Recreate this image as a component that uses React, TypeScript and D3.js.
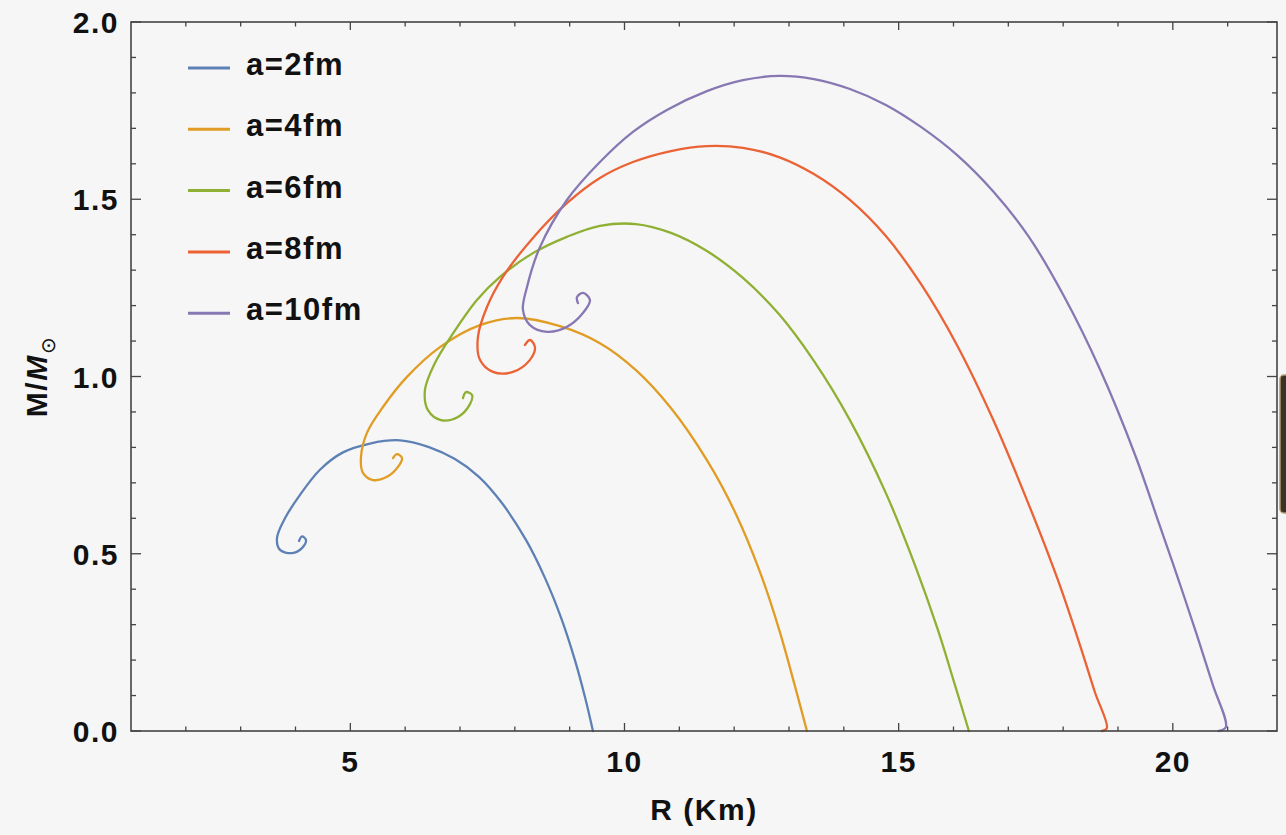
import React, { useEffect, useRef } from 'react';
import * as d3 from 'd3';

const seriesNames = ['a=2fm', 'a=4fm', 'a=6fm', 'a=8fm', 'a=10fm'];
const seriesColors = ['#5e81b5', '#e19c24', '#8fb032', '#eb6235', '#8778b3'];

const a2fm: [number, number][] = [
  [9.425, 0], [9.279, 0.096], [9.096, 0.2], [8.859, 0.313], [8.549, 0.432], [8.203, 0.539],
  [7.765, 0.643], [7.346, 0.717], [6.908, 0.767], [6.434, 0.801], [5.905, 0.82], [5.358, 0.811],
  [4.866, 0.786], [4.446, 0.737], [4.082, 0.666], [3.808, 0.6], [3.662, 0.544], [3.717, 0.511],
  [3.936, 0.502], [4.118, 0.516], [4.191, 0.539], [4.118, 0.549], [4.064, 0.536],
];
const a4fm: [number, number][] = [
  [13.327, 0], [13.108, 0.127], [12.834, 0.279], [12.47, 0.449], [12.014, 0.618], [11.503, 0.764],
  [10.847, 0.911], [10.209, 1.018], [9.552, 1.094], [8.823, 1.142], [8.039, 1.165], [7.364, 1.145],
  [6.635, 1.083], [6.033, 0.999], [5.595, 0.914], [5.303, 0.841], [5.194, 0.773], [5.23, 0.728],
  [5.413, 0.708], [5.668, 0.717], [5.869, 0.745], [5.942, 0.77], [5.851, 0.781], [5.778, 0.77],
];
const a6fm: [number, number][] = [
  [16.281, 0], [16.026, 0.13], [15.716, 0.285], [15.297, 0.468], [14.767, 0.671], [14.111, 0.877],
  [13.454, 1.044], [12.816, 1.176], [12.16, 1.278], [11.503, 1.354], [10.847, 1.405], [10.209, 1.43],
  [9.552, 1.425], [8.95, 1.394], [8.33, 1.348], [7.729, 1.281], [7.309, 1.216], [6.853, 1.117],
  [6.543, 1.038], [6.361, 0.962], [6.416, 0.905], [6.653, 0.877], [6.963, 0.886], [7.182, 0.922],
  [7.219, 0.948], [7.109, 0.956], [7.054, 0.939],
];
const a8fm: [number, number][] = [
  [18.706, 0], [18.797, 0.008], [18.578, 0.11], [18.305, 0.243], [17.904, 0.426], [17.375, 0.638],
  [16.718, 0.88], [16.062, 1.089], [15.406, 1.261], [14.767, 1.396], [14.111, 1.498], [13.454, 1.571],
  [12.816, 1.619], [12.16, 1.645], [11.503, 1.65], [10.847, 1.636], [10.154, 1.605], [9.552, 1.56],
  [8.95, 1.489], [8.33, 1.391], [7.783, 1.281], [7.492, 1.196], [7.327, 1.111], [7.364, 1.047],
  [7.601, 1.013], [7.966, 1.013], [8.276, 1.047], [8.367, 1.083], [8.276, 1.103], [8.185, 1.089],
];
const a10fm: [number, number][] = [
  [20.84, 0], [20.967, 0.011], [20.73, 0.13], [20.438, 0.271], [20.091, 0.432], [19.727, 0.595],
  [19.326, 0.773], [18.669, 1.021], [18.013, 1.227], [17.375, 1.394], [16.718, 1.523], [16.062, 1.625],
  [15.406, 1.704], [14.767, 1.766], [14.111, 1.811], [13.454, 1.839], [12.816, 1.848], [12.16, 1.836],
  [11.503, 1.805], [10.774, 1.752], [10.154, 1.69], [9.552, 1.605], [8.95, 1.498], [8.458, 1.365],
  [8.221, 1.252], [8.148, 1.188], [8.276, 1.145], [8.586, 1.126], [8.95, 1.14], [9.242, 1.179],
  [9.37, 1.216], [9.242, 1.236], [9.133, 1.224], [9.151, 1.207],
];
const allSeries = [a2fm, a4fm, a6fm, a8fm, a10fm];

const xMajor = [5, 10, 15, 20];
const xMinor = [2, 3, 4, 6, 7, 8, 9, 11, 12, 13, 14, 16, 17, 18, 19, 21];
const yMajor = [0, 0.5, 1, 1.5, 2];
const yMinor = [0.1, 0.2, 0.3, 0.4, 0.6, 0.7, 0.8, 0.9, 1.1, 1.2, 1.3, 1.4, 1.6, 1.7, 1.8, 1.9];

const W = 1286;
const H = 835;
const margin = { top: 22, right: 9, bottom: 104, left: 131 };
const FONT = '"Liberation Sans", Arial, sans-serif';

const App = () => {
  const svgRef = useRef<SVGSVGElement>(null);

  useEffect(() => {
    const svg = d3.select(svgRef.current);
    svg.selectAll('*').remove();

    const x = d3.scaleLinear().domain([1, 21.9]).range([margin.left, W - margin.right]);
    const y = d3.scaleLinear().domain([0, 2]).range([H - margin.bottom, margin.top]);
    const [x0, x1] = x.range();
    const [y0, y1] = y.range();

    svg.append('rect').attr('width', W).attr('height', H).attr('fill', '#f6f6f6');

    // curves
    const line = d3
      .line<[number, number]>()
      .x((d) => x(d[0]))
      .y((d) => y(d[1]))
      .curve(d3.curveCatmullRom.alpha(0.5));

    const plot = svg.append('g');
    allSeries.forEach((s, i) => {
      plot
        .append('path')
        .datum(s)
        .attr('d', line)
        .attr('fill', 'none')
        .attr('stroke', seriesColors[i])
        .attr('stroke-width', 2.3)
        .attr('stroke-linejoin', 'round')
        .attr('stroke-linecap', 'round');
    });

    // frame and ticks
    const frame = svg.append('g').attr('stroke', '#444');
    frame
      .append('rect')
      .attr('x', x0)
      .attr('y', y1)
      .attr('width', x1 - x0)
      .attr('height', y0 - y1)
      .attr('fill', 'none')
      .attr('stroke-width', 1.6);

    const xt = (vals: number[], len: number) => {
      vals.forEach((v) => {
        frame.append('line').attr('x1', x(v)).attr('x2', x(v)).attr('y1', y0).attr('y2', y0 - len).attr('stroke-width', 1.3);
        frame.append('line').attr('x1', x(v)).attr('x2', x(v)).attr('y1', y1).attr('y2', y1 + len).attr('stroke-width', 1.3);
      });
    };
    const yt = (vals: number[], len: number) => {
      vals.forEach((v) => {
        frame.append('line').attr('y1', y(v)).attr('y2', y(v)).attr('x1', x0).attr('x2', x0 + len).attr('stroke-width', 1.3);
        frame.append('line').attr('y1', y(v)).attr('y2', y(v)).attr('x1', x1).attr('x2', x1 - len).attr('stroke-width', 1.3);
      });
    };
    xt(xMajor, 8);
    xt(xMinor, 4.5);
    yt(yMajor, 10);
    yt(yMinor, 5);

    const txt = svg
      .append('g')
      .attr('font-family', FONT)
      .attr('font-weight', 'bold')
      .attr('font-size', 30)
      .attr('fill', '#111')
      .style('letter-spacing', '1.5px');

    xMajor.forEach((v) => {
      txt.append('text').attr('x', x(v)).attr('y', y0 + 41).attr('text-anchor', 'middle').text(v);
    });
    yMajor.forEach((v) => {
      txt.append('text').attr('x', x0 - 12).attr('y', y(v) + 11).attr('text-anchor', 'end').text(d3.format('.1f')(v));
    });

    txt
      .append('text')
      .attr('x', (x0 + x1) / 2)
      .attr('y', 820)
      .attr('text-anchor', 'middle')
      .text('R (Km)');

    const yl = txt
      .append('text')
      .attr('transform', `translate(47,${(y0 + y1) / 2}) rotate(-90)`)
      .attr('text-anchor', 'middle');
    yl.append('tspan').text('M/');
    yl.append('tspan').attr('font-style', 'italic').text('M');
    yl.append('tspan').attr('font-size', 20).attr('dy', 8).attr('font-weight', 'normal').text('\u2299');

    // legend
    const legend = svg.append('g');
    seriesNames.forEach((name, i) => {
      const ly = 68 + i * 61.3;
      legend.append('line').attr('x1', 188).attr('x2', 230).attr('y1', ly).attr('y2', ly).attr('stroke', seriesColors[i]).attr('stroke-width', 3);
      txt.append('text').attr('x', 246).attr('y', ly + 7).attr('font-size', 31).text(name);
    });

    // dark side handle at the right edge of the screenshot
    svg
      .append('rect')
      .attr('x', 1280)
      .attr('y', 375)
      .attr('width', 12)
      .attr('height', 138)
      .attr('rx', 4)
      .attr('fill', '#3a3128')
      .attr('stroke', '#b39a6c')
      .attr('stroke-width', 1.5);
  }, []);

  return <svg ref={svgRef} width={W} height={H} style={{ position: 'absolute', left: 0, top: 0 }} />;
};

export default App;
